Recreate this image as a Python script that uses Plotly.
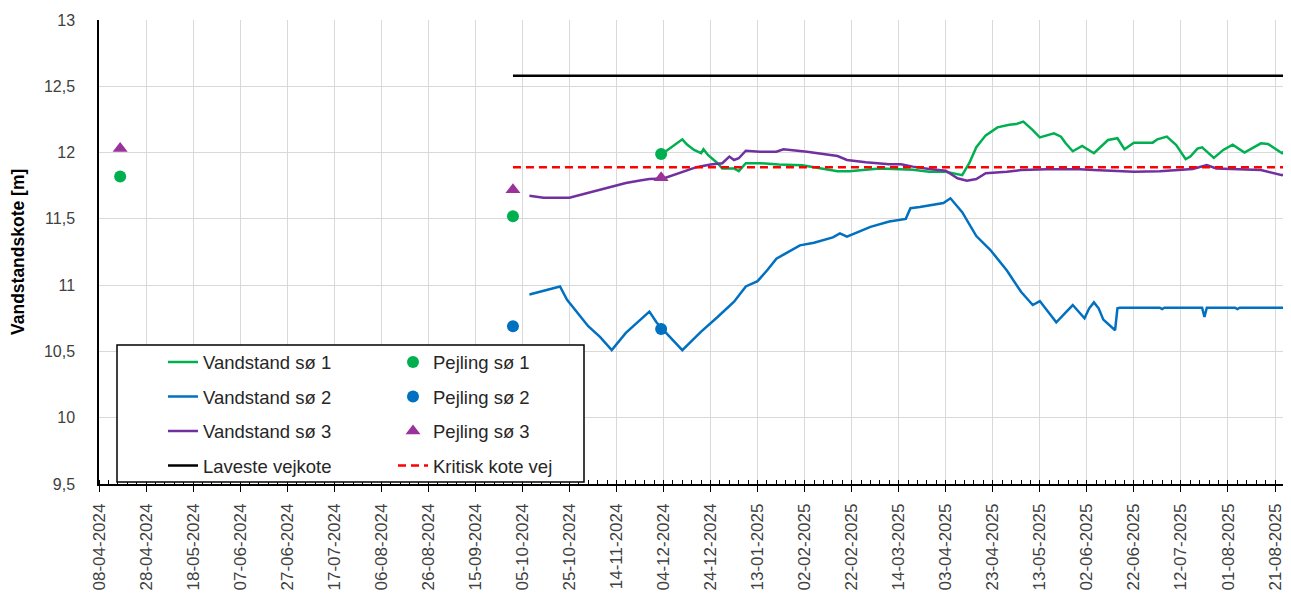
import plotly.graph_objects as go

# ---------------- data ----------------
# Vandstand sø 1 (green)
dates_s1 = ["2024-12-05", "2024-12-12", "2024-12-14", "2024-12-17", "2024-12-20", "2024-12-21",
            "2024-12-23", "2024-12-27", "2024-12-29", "2025-01-03", "2025-01-05", "2025-01-08",
            "2025-01-14", "2025-01-22", "2025-02-01", "2025-02-10", "2025-02-16", "2025-02-21",
            "2025-03-06", "2025-03-20", "2025-03-27", "2025-04-03", "2025-04-07", "2025-04-10",
            "2025-04-13", "2025-04-16", "2025-04-20", "2025-04-25", "2025-04-30", "2025-05-03",
            "2025-05-06", "2025-05-10", "2025-05-13", "2025-05-19", "2025-05-22", "2025-05-24",
            "2025-05-27", "2025-05-31", "2025-06-05", "2025-06-11", "2025-06-15", "2025-06-18",
            "2025-06-22", "2025-06-30", "2025-07-02", "2025-07-06", "2025-07-10", "2025-07-14",
            "2025-07-16", "2025-07-19", "2025-07-21", "2025-07-26", "2025-07-30", "2025-08-03",
            "2025-08-08", "2025-08-15", "2025-08-18", "2025-08-24", "2025-08-28"]
level_s1 = [12.01, 12.10, 12.06, 12.02, 11.995, 12.025,
            11.98, 11.92, 11.88, 11.88, 11.86, 11.92,
            11.92, 11.91, 11.905, 11.88, 11.86, 11.86,
            11.88, 11.87, 11.856, 11.856, 11.84, 11.83,
            11.92, 12.04, 12.13, 12.19, 12.21, 12.215,
            12.233, 12.17, 12.115, 12.145, 12.12, 12.07,
            12.01, 12.05, 11.995, 12.095, 12.108, 12.025,
            12.075, 12.075, 12.10, 12.12, 12.057, 11.95,
            11.97, 12.03, 12.04, 11.96, 12.02, 12.06,
            12.00, 12.07, 12.065, 11.995, 12.057]

# Vandstand sø 2 (blue)
dates_s2 = ["2024-10-08", "2024-10-17", "2024-10-21", "2024-10-24", "2024-11-02", "2024-11-07",
            "2024-11-12", "2024-11-18", "2024-11-23", "2024-11-28", "2024-12-01", "2024-12-04",
            "2024-12-12", "2024-12-20", "2024-12-27", "2025-01-03", "2025-01-08", "2025-01-13",
            "2025-01-17", "2025-01-21", "2025-01-25", "2025-01-31", "2025-02-06", "2025-02-14",
            "2025-02-17", "2025-02-20", "2025-03-02", "2025-03-10", "2025-03-17", "2025-03-19",
            "2025-03-23", "2025-04-02", "2025-04-05", "2025-04-10", "2025-04-16", "2025-04-22",
            "2025-04-29", "2025-05-05", "2025-05-10", "2025-05-13", "2025-05-20", "2025-05-27",
            "2025-06-01", "2025-06-03", "2025-06-05", "2025-06-07", "2025-06-09", "2025-06-14",
            "2025-06-15", "2025-06-16", "2025-07-03", "2025-07-04", "2025-07-05", "2025-07-21",
            "2025-07-22", "2025-07-23", "2025-08-04", "2025-08-05", "2025-08-06", "2025-08-28"]
level_s2 = [10.93, 10.97, 10.99, 10.89, 10.69, 10.61,
            10.51, 10.64, 10.72, 10.80, 10.72, 10.66,
            10.51, 10.65, 10.76, 10.875, 10.99, 11.03,
            11.11, 11.20, 11.24, 11.30, 11.32, 11.36,
            11.39, 11.365, 11.44, 11.48, 11.50, 11.58,
            11.59, 11.62, 11.655, 11.55, 11.37, 11.265,
            11.11, 10.95, 10.85, 10.88, 10.72, 10.85,
            10.75, 10.825, 10.87, 10.825, 10.74, 10.66,
            10.825, 10.83, 10.83, 10.82, 10.83, 10.83,
            10.76, 10.83, 10.83, 10.82, 10.83, 10.83]

# Vandstand sø 3 (purple)
dates_s3 = ["2024-10-08", "2024-10-14", "2024-10-25", "2024-11-03", "2024-11-11", "2024-11-18",
            "2024-11-24", "2024-11-28", "2024-12-04", "2024-12-10", "2024-12-18", "2024-12-24",
            "2024-12-29", "2025-01-01", "2025-01-03", "2025-01-05", "2025-01-08", "2025-01-14",
            "2025-01-21", "2025-01-24", "2025-01-27", "2025-02-03", "2025-02-16", "2025-02-20",
            "2025-02-28", "2025-03-10", "2025-03-15", "2025-03-20", "2025-03-27", "2025-04-03",
            "2025-04-08", "2025-04-12", "2025-04-16", "2025-04-20", "2025-04-29", "2025-05-05",
            "2025-05-16", "2025-05-30", "2025-06-05", "2025-06-22", "2025-07-03", "2025-07-17",
            "2025-07-23", "2025-07-27", "2025-08-15", "2025-08-24", "2025-08-28"]
level_s3 = [11.675, 11.66, 11.66, 11.70, 11.74, 11.77,
            11.79, 11.80, 11.805, 11.84, 11.89, 11.91,
            11.92, 11.97, 11.944, 11.957, 12.014, 12.007,
            12.007, 12.025, 12.02, 12.007, 11.974, 11.944,
            11.927, 11.912, 11.912, 11.894, 11.876, 11.863,
            11.806, 11.788, 11.80, 11.844, 11.856, 11.868,
            11.874, 11.874, 11.868, 11.856, 11.86, 11.876,
            11.906, 11.88, 11.868, 11.83, 11.856]

# Pejlinger (manual readings)
pej_dates_s1 = ["2024-04-17", "2024-10-01", "2024-12-03"]
pej_s1 = [11.82, 11.52, 11.99]
pej_dates_s2 = ["2024-10-01", "2024-12-03"]
pej_s2 = [10.69, 10.67]
pej_dates_s3 = ["2024-04-17", "2024-10-01", "2024-12-03"]
pej_s3 = [12.03, 11.72, 11.81]

# Road levels
vej_dates = ["2024-10-01", "2025-08-31"]
laveste_vejkote = [12.58, 12.58]
kritisk_kote = [11.89, 11.89]

# axis extent
x_start = "2024-04-08"
x_end = "2025-08-27 19:00"

# ---------------- styling ----------------
GREEN = "#00B050"
BLUE = "#0070C0"
PURPLE = "#7030A0"
TRI = "#993399"
FONT = "Liberation Sans"
LW = 2.5

fig = go.Figure()


def line(x, y, name, color, legend, rank, dash=None):
    fig.add_trace(go.Scatter(
        x=x, y=y, mode="lines", name=name, legend=legend, legendrank=rank,
        legendgroup=name,
        line=dict(color=color, width=LW, dash=dash)))


def pts(x, y, name, color, symbol, size, legend, rank):
    fig.add_trace(go.Scatter(
        x=x, y=y, mode="markers", name=name, legend=legend, legendrank=rank,
        legendgroup=name,
        marker=dict(color=color, symbol=symbol, size=size, line=dict(width=0))))


line(dates_s1, level_s1, "Vandstand sø 1", GREEN, "legend", 1)
line(dates_s2, level_s2, "Vandstand sø 2", BLUE, "legend", 2)
line(dates_s3, level_s3, "Vandstand sø 3", PURPLE, "legend", 3)
line(vej_dates, laveste_vejkote, "Laveste vejkote", "#000000", "legend", 4)
line(vej_dates, kritisk_kote, "Kritisk kote vej", "#FF0000", "legend2", 8, dash="8px,5px")
pts(pej_dates_s1, pej_s1, "Pejling sø 1", GREEN, "circle", 12, "legend2", 5)
pts(pej_dates_s2, pej_s2, "Pejling sø 2", BLUE, "circle", 12, "legend2", 6)
pts(pej_dates_s3, pej_s3, "Pejling sø 3", TRI, "triangle-up", 13, "legend2", 7)

# page has an 8px body margin; compensate so the plot area lands at page px 99..1291 x 20..484
OFF = 8
W, H = 1283, 590
ML, MR, MT, MB = 91, 0, 12, 114
pw, ph = W - ML - MR, H - MT - MB


def px(x_page):
    return (x_page - OFF - ML) / pw


def py(y_page):
    return (H - MB - (y_page - OFF)) / ph


legend_common = dict(
    xanchor="left", yanchor="top", bgcolor="rgba(0,0,0,0)", borderwidth=0,
    font=dict(family=FONT, size=18.5, color="#262626"), tracegroupgap=7.4,
    orientation="v",
)

fig.update_layout(
    width=W, height=H,
    margin=dict(l=ML, r=MR, t=MT, b=MB, autoexpand=False),
    paper_bgcolor="white", plot_bgcolor="white",
    separators=", ",
    font=dict(family=FONT, size=15, color="#404040"),
    showlegend=True,
    legend=dict(x=px(163), y=py(343.5), **legend_common),
    legend2=dict(x=px(393), y=py(343.5), **legend_common),
    xaxis=dict(
        type="date", range=[x_start, x_end],
        tick0=x_start, dtick=20 * 86400000, tickformat="%d-%m-%Y",
        tickangle=-90, tickfont=dict(family=FONT, size=17, color="#404040"),
        ticklabelstandoff=5,
        showgrid=True, gridcolor="#D9D9D9", gridwidth=1,
        showline=True, linecolor="#000000", linewidth=1.5,
        ticks="outside", ticklen=6, tickcolor="#000000", tickwidth=1,
        minor=dict(dtick=4 * 86400000, tick0=x_start, ticks="inside", ticklen=4,
                   tickcolor="#000000", tickwidth=1, showgrid=False),
        zeroline=False, automargin=False,
    ),
    yaxis=dict(
        range=[9.5, 13], dtick=0.5, tick0=9.5,
        tickfont=dict(family=FONT, size=16, color="#404040"),
        showgrid=True, gridcolor="#D9D9D9", gridwidth=1,
        showline=True, linecolor="#000000", linewidth=1.5,
        ticks="outside", ticklen=19, tickcolor="rgba(0,0,0,0)",
        zeroline=False, automargin=False,
    ),
    shapes=[dict(
        type="rect", xref="paper", yref="paper",
        x0=px(117), x1=px(584), y0=py(482), y1=py(345),
        line=dict(color="#000000", width=1.5), fillcolor="white", layer="above",
    )],
    annotations=[dict(
        text="<b>Vandstandskote [m]</b>", xref="paper", yref="paper",
        x=px(18), y=0.5, xanchor="center", yanchor="middle", textangle=-90,
        showarrow=False, font=dict(family=FONT, size=17.5, color="#000000"),
    )],
)

fig.write_html("out.html")
